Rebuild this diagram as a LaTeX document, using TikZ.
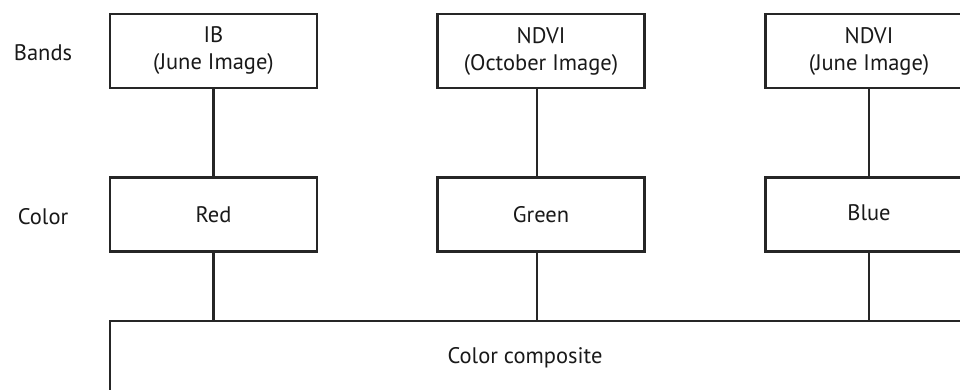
\documentclass[tikz,border=0pt]{standalone}
\usepackage{fontspec}
\setmainfont{PT Sans}
\begin{document}
\begin{tikzpicture}[x=1pt,y=-1pt,
  txt/.style={font=\fontsize{22.5}{27}\selectfont, text=black!90, align=center},
  box/.style={txt, draw=black!85, line width=2.2pt, minimum width=207pt, minimum height=74pt, inner sep=0pt},
  wire/.style={draw=black!85, line width=2.2pt}]
\useasboundingbox (0,0) rectangle (960,389);
\clip (0,0) rectangle (960,389);
\node[txt] (bands) at (43,53) {Bands};
\node[txt] (color) at (43,217) {Color};
\node[box] (ib) at (213.5,51) {IB\\(June Image)};
\node[box] (ndvio) at (541,51) {NDVI\\(October Image)};
\node[box] (ndvij) at (869,51) {NDVI\\(June Image)};
\node[box] (red) at (213.5,214.5) {Red};
\node[box] (green) at (541,214.5) {Green};
\node[box] (blue) at (869,214.5) {\raisebox{3pt}{Blue}};
\node[draw=black!85, line width=2.2pt, minimum width=890pt, minimum height=99pt, inner sep=0pt] (comp) at (555,370.5) {};
\node[txt] (comptext) at (525,358) {Color composite};
\draw[wire] (ib) -- (red);
\draw[wire] ([xshift=-4pt]ndvio.south) -- ([xshift=-4pt]green.north);
\draw[wire] (ndvij) -- (blue);
\draw[wire] (red) -- (red |- comp.north);
\draw[wire] ([xshift=-4pt]green.south) -- ([xshift=-4pt]green.south |- comp.north);
\draw[wire] (blue) -- (blue |- comp.north);
\end{tikzpicture}
\end{document}
